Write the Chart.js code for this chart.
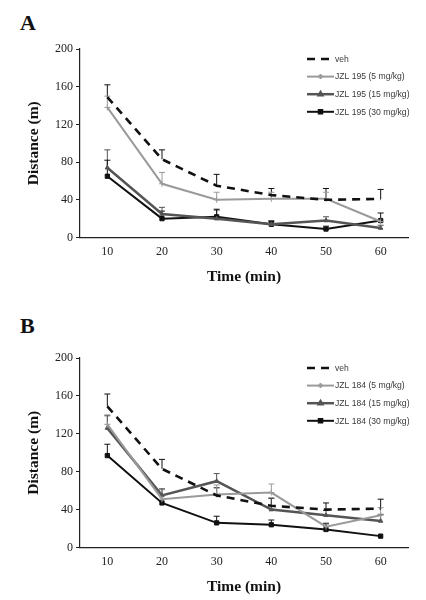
<!DOCTYPE html>
<html lang="en">
<head>
  <meta charset="UTF-8">
  <title>JZL 195 / JZL 184 - Distance</title>
  <script src="https://cdn.jsdelivr.net/npm/chart.js@4.4.1/dist/chart.umd.min.js"></script>
  <style>
    body { margin: 0; background: #fff; }
    .page { position: relative; width: 426px; height: 600px; }
    .letter { position: absolute; left: 20px; font: bold 22px/22px 'Liberation Serif', serif; color: #111; }
    .panel { position: absolute; left: 0; width: 426px; }
  </style>
</head>
<body>
  <div class="page">
    <div class="letter" style="top:12px">A</div>
    <div class="panel" style="top:0; height:290px"><canvas id="chartA"></canvas></div>
    <div class="letter" style="top:315px">B</div>
    <div class="panel" style="top:309px; height:291px"><canvas id="chartB"></canvas></div>
  </div>

  <script>
    // shared
    const times = ['10', '20', '30', '40', '50', '60'];
    const yTicks = [0, 40, 80, 120, 160, 200];

    // panel A - JZL 195
    const labelsA = ['veh', 'JZL 195 (5 mg/kg)', 'JZL 195 (15 mg/kg)', 'JZL 195 (30 mg/kg)'];
    const vehA = [149, 83, 55, 45, 40, 41];
    const vehAErr = [13, 10, 12, 7, 12, 10];
    const a5 = [138, 57, 40, 41, 41, 17];
    const a5Err = [12, 12, 8, 7, 7, 0];
    const a15 = [74, 25, 20, 14, 18, 10];
    const a15Err = [19, 7, 9, 4, 4, 3];
    const a30 = [65, 20, 22, 14, 9, 18];
    const a30Err = [17, 8, 8, 3, 3, 8];

    // panel B - JZL 184
    const labelsB = ['veh', 'JZL 184 (5 mg/kg)', 'JZL 184 (15 mg/kg)', 'JZL 184 (30 mg/kg)'];
    const vehB = [149, 83, 55, 44, 40, 41];
    const vehBErr = [13, 10, 8, 8, 7, 10];
    const b5 = [130, 51, 56, 58, 22, 34];
    const b5Err = [10, 10, 10, 9, 4, 8];
    const b15 = [126, 55, 70, 40, 34, 28];
    const b15Err = [13, 7, 8, 12, 5, 7];
    const b30 = [97, 47, 26, 24, 19, 12];
    const b30Err = [12, 0, 7, 5, 6, 0];

    // upward error bars, drawn through the chart's own scales
    const errorBars = {
      id: 'errorBars',
      beforeDatasetsDraw(chart) {
        const ctx = chart.ctx;
        const x = chart.scales.x, y = chart.scales.y;
        chart.data.datasets.forEach(ds => {
          if (!ds.errors) return;
          ctx.save();
          ctx.strokeStyle = ds.borderColor;
          ctx.lineWidth = 1;
          ds.data.forEach((v, i) => {
            const e = ds.errors[i];
            if (!e) return;
            const px = x.getPixelForValue(i);
            const y0 = y.getPixelForValue(v);
            const y1 = y.getPixelForValue(v + e);
            ctx.beginPath();
            ctx.moveTo(px, y0);
            ctx.lineTo(px, y1);
            ctx.moveTo(px - 3, y1);
            ctx.lineTo(px + 3, y1);
            ctx.stroke();
          });
          ctx.restore();
        });
      }
    };

    // legend in the top right corner of the plot
    const cornerLegend = {
      id: 'cornerLegend',
      afterDraw(chart) {
        const ctx = chart.ctx;
        const x0 = 307, x1 = 334, top = 59, step = 17.6;
        chart.data.datasets.forEach((ds, i) => {
          const yy = top + i * step;
          ctx.save();
          ctx.strokeStyle = ds.borderColor;
          ctx.lineWidth = ds.borderWidth;
          ctx.setLineDash(ds.borderDash || []);
          ctx.beginPath();
          ctx.moveTo(x0, yy);
          ctx.lineTo(i === 0 ? x1 - 2 : x1, yy);
          ctx.stroke();
          ctx.setLineDash([]);
          if (ds.pointRadius > 0) {
            Chart.helpers.drawPoint(ctx, {
              pointStyle: ds.pointStyle, radius: ds.pointRadius - 0.5, borderWidth: 1
            }, (x0 + x1) / 2, yy);
          }
          ctx.fillStyle = '#3a3a3a';
          ctx.font = "8.6px 'Liberation Sans', sans-serif";
          ctx.textBaseline = 'middle';
          ctx.fillText(ds.label, x1 + 1, yy + 0.5);
          ctx.restore();
        });
      }
    };

    function series(label, data, errors, color, width, style, radius, dash) {
      return {
        label: label,
        data: data,
        errors: errors,
        borderColor: color,
        backgroundColor: color,
        borderWidth: width,
        borderDash: dash,
        pointStyle: style,
        pointRadius: radius,
        pointBorderWidth: 1,
        pointBorderColor: color,
        pointBackgroundColor: color,
        tension: 0
      };
    }

    function makeChart(id, labels, sets) {
      const tickFont = { family: "'Liberation Serif', serif", size: 12 };
      const titleFont = { family: "'Liberation Serif', serif", size: 15.5, weight: 'bold' };
      return new Chart(document.getElementById(id), {
        type: 'line',
        data: {
          labels: times,
          datasets: [
            series(labels[0], sets[0], sets[1], '#111', 2.6, 'circle', 0, [8, 6]),
            series(labels[1], sets[2], sets[3], '#9a9a9a', 2, 'cross', 3, undefined),
            series(labels[2], sets[4], sets[5], '#555', 2.5, 'triangle', 2.5, undefined),
            series(labels[3], sets[6], sets[7], '#111', 2, 'rect', 3, undefined)
          ]
        },
        options: {
          responsive: true,
          maintainAspectRatio: false,
          animation: false,
          layout: { padding: { top: 49, right: 18, left: 25, bottom: 4 } },
          plugins: { legend: { display: false }, tooltip: { enabled: false } },
          scales: {
            x: {
              offset: true,
              grid: { display: false, drawTicks: false },
              border: { display: true, color: '#222', width: 1.2 },
              ticks: { color: '#222', font: tickFont, padding: 7 },
              title: { display: true, text: 'Time (min)', color: '#111', font: titleFont, padding: 0 },
              afterFit(scale) { scale.height = 48.5; }
            },
            y: {
              min: 0,
              max: 200,
              afterBuildTicks(scale) { scale.ticks = yTicks.map(v => ({ value: v })); },
              grid: { drawOnChartArea: false, drawTicks: true, tickLength: 4, color: '#222' },
              border: { display: true, color: '#222', width: 1.2 },
              ticks: { color: '#222', font: tickFont, padding: 3 },
              title: { display: true, text: 'Distance (m)', color: '#111', font: titleFont, padding: 0 },
              afterFit(scale) { scale.width = 55; }
            }
          }
        },
        plugins: [errorBars, cornerLegend]
      });
    }

    makeChart('chartA', labelsA, [vehA, vehAErr, a5, a5Err, a15, a15Err, a30, a30Err]);
    makeChart('chartB', labelsB, [vehB, vehBErr, b5, b5Err, b15, b15Err, b30, b30Err]);
  </script>
</body>
</html>
